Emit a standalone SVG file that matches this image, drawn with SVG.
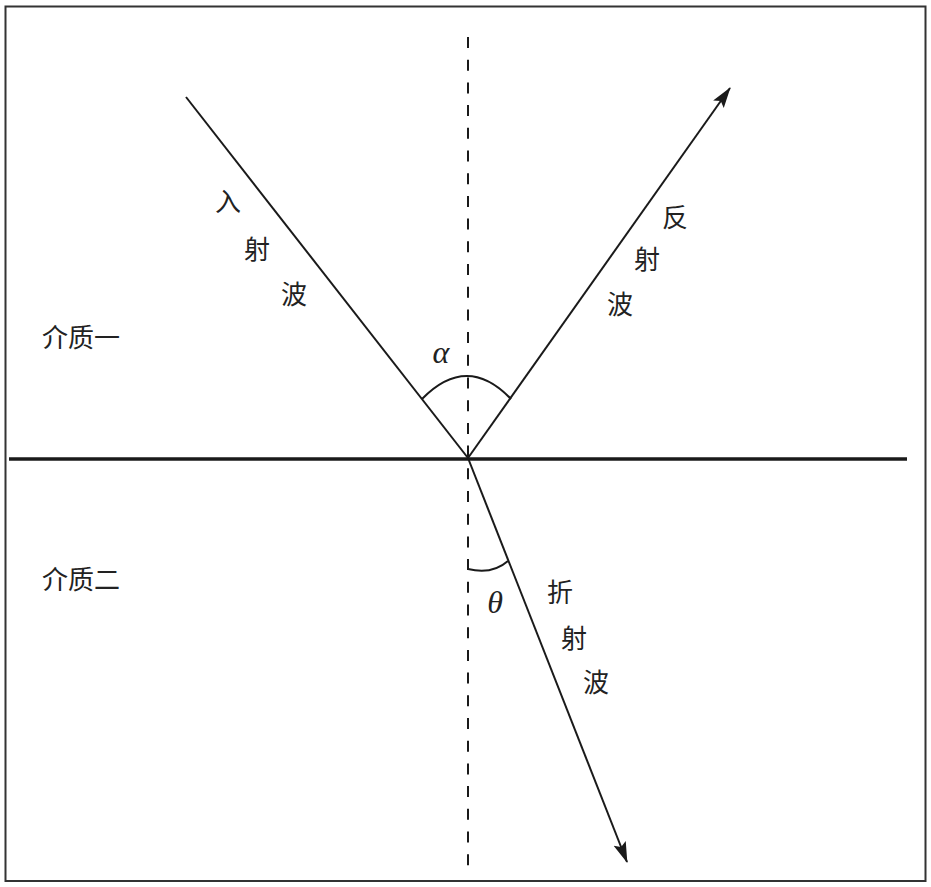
<svg xmlns="http://www.w3.org/2000/svg" width="931" height="887" viewBox="0 0 931 887">
<style>
.ln{stroke:#1a1a1a;stroke-width:2;fill:none}
.cjk{font-family:"Noto Sans CJK SC","Noto Sans CJK JP",sans-serif;font-size:26px;fill:#222;text-anchor:middle;dominant-baseline:central}
.gr{font-family:"Liberation Serif","DejaVu Serif",serif;font-style:italic;font-size:32px;fill:#222;text-anchor:middle;dominant-baseline:central}
</style>
<defs>
<marker id="arr" markerUnits="userSpaceOnUse" markerWidth="22" markerHeight="14" refX="20" refY="6.5" orient="auto">
<path d="M0,0 L21,6.5 L0,13 L4,6.5 z" fill="#1a1a1a"/>
</marker>
</defs>
<rect x="0" y="0" width="931" height="887" fill="#fff"/>
<g id="frame"><rect x="5.5" y="6.5" width="920" height="874.5" fill="none" stroke="#333" stroke-width="2"/></g>
<g id="connectors">
<line id="normal" x1="468" y1="37" x2="468" y2="870" stroke="#1a1a1a" stroke-width="2" stroke-dasharray="11 11.7"/>
<line id="interface" x1="9" y1="459" x2="907" y2="459" stroke="#1a1a1a" stroke-width="3.5"/>
<line id="incident" class="ln" x1="186" y1="97" x2="468" y2="458"/>
<line id="reflected" class="ln" x1="468" y1="458" x2="730" y2="88" marker-end="url(#arr)"/>
<line id="refracted" class="ln" x1="468" y1="458" x2="627" y2="862" marker-end="url(#arr)"/>
<path id="arc-alpha" class="ln" d="M422,399 Q467,353 511,399"/>
<path id="arc-theta" class="ln" d="M468,569 Q492,575 508,561"/>
</g>
<g id="medium1"><text class="cjk" x="81" y="335" font-size="27">介质一</text></g>
<g id="medium2"><text class="cjk" x="81" y="577" font-size="27">介质二</text></g>
<g id="incident-label">
<text class="cjk" x="228" y="199">入</text>
<text class="cjk" x="257" y="247">射</text>
<text class="cjk" x="294" y="292">波</text>
</g>
<g id="reflected-label">
<text class="cjk" x="675" y="215">反</text>
<text class="cjk" x="647" y="257">射</text>
<text class="cjk" x="620" y="302">波</text>
</g>
<g id="refracted-label">
<text class="cjk" x="560" y="590">折</text>
<text class="cjk" x="574" y="636">射</text>
<text class="cjk" x="596" y="680">波</text>
</g>
<g id="alpha"><text class="gr" x="441" y="352">α</text></g>
<g id="theta"><text class="gr" x="495" y="602">θ</text></g>
</svg>
